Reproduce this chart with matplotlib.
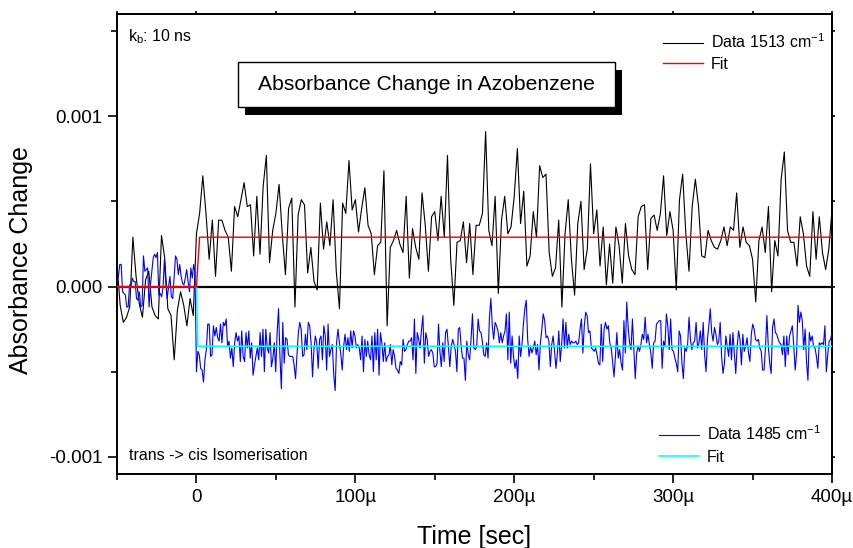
import numpy as np
import matplotlib
matplotlib.use("Agg")
import matplotlib.pyplot as plt
from matplotlib.patches import Rectangle
from matplotlib.ticker import MultipleLocator, FuncFormatter, FormatStrFormatter

plt.rcParams["font.family"] = ["Liberation Sans", "DejaVu Sans"]
plt.rcParams["mathtext.fontset"] = "custom"
plt.rcParams["mathtext.rm"] = "Liberation Sans"
plt.rcParams["mathtext.it"] = "Liberation Sans:italic"
plt.rcParams["mathtext.default"] = "regular"
plt.rcParams["axes.unicode_minus"] = False

# Absorbance values are stored in units of 1e-5
UNIT = 1e-5

# Time window of the measurement, microseconds
T_START_US = -50.0
T_END_US = 400.0
STEP_1513_US = 2.0

# Transient at 1513 cm-1 (2 us sampling from -50 us)
data_1513 = [
    13, -11, -21, -18, -12, 29, 6, -10, -18, 4, 9, -12, -17, -19, 30, 17, -13,
    -17, -43, -14, -3, -11, -23, -7, -17,
    31, 43, 65, 43, 16, 39, 6, 39, 39, 33, 29, 9, 47, 41, 51, 61, 47, 48, 18,
    53, 19, 59, 77, 14, 33, 43, 60, 31, 7, 46, 52,
    -12, 42, 51, 48, 8, 23, 3, -2, 49, 22, 38, 24, 51, 9, -13, 49, 43, 74, 45,
    51, 32, 46, 58, 36, 31, 7, 24, 26, 68, -23, 23, 27, 33, 25, 20, 53, 5, 34,
    23, 16, 55, 36, 9, 41, 44, 27, 53, 29, 77, 16, -11, 26, 27, 38, 14, 37, 7,
    36, 36, 43,
    91,
    33, 24, 53, -4, 39, 53, 31, 35, 53, 81, 37, 56, 12, 18, 44, 29, 71, 64, 66,
    20, 6, 11, 39, -12, 31, 51, 16, -5, 37, 50, 10, 22, 72, 31, 45, 12, 35, 1,
    25, 2, 35, 24, 2, 37, 18, 10, 7, 41, 47, 48, 10, 40, 42, 33, 43, 65, 30, 44,
    33, -2, 51, 66, 31, 9, 47, 63, 47, 18, 17, 33, 27, 23, 22, 27, 35, 24, 35,
    33, 55, 23, 35, 26, 24, 16, -9, 27, 35, 20, 47, -3, 27, 18, 63, 79, 33, 26,
    26, 12, 41, 31, 12, 6, 44, 16, 41, 20, 10, 22, 45,
]

# Transient at 1485 cm-1, before and after the pump pulse
data_1485_pre = [
    3, 6, 13, 13, -3, -4, -5, -12, -12, 1, 0, 5, 3, 3, -7, -8, -3, -12, -11,
    18, 9, 10, 11, -12, 1, 9, 17, 19, 17, 20, -5, -4, -6, -1, 16, 2, -7, 0, 6,
    -6, -7, 6, 18, 16, 7, 13, 6, 2, 1, 5, 10, 3, -3, 11, 5, 13, 8,
]
data_1485_post = [
    -50, -38, -40, -48, -49, -56, -43, -37, -22, -22, -41, -40, -23, -29, -24,
    -30, -32, -22, -33, -21, -23, -19, -35, -32, -42, -36, -47, -33, -27, -32,
    -29, -44, -26, -41, -44, -27, -36, -26, -42, -33, -52, -46, -41, -36, -43,
    -27, -41, -25, -50, -25, -36, -39, -27, -47, -42, -33, -50, -27, -13, -41,
    -60, -21, -45, -30, -31, -40, -41, -41, -41, -46, -54, -41, -27, -21, -25,
    -41, -40, -28, -37, -21, -23, -33, -53, -37, -29, -33, -48, -31, -29, -43,
    -23, -29, -49, -22, -41, -37, -34, -52, -61, -33, -25, -33, -40, -49, -35,
    -28, -37, -30, -38, -26, -36, -26, -29, -36, -34, -36, -43, -29, -50, -31,
    -41, -32, -40, -43, -29, -50, -27, -43, -25, -52, -27, -33, -44, -33, -44,
    -41, -40, -34, -46, -37, -41, -48,
    -49, -51, -44, -46, -31, -38, -37, -34, -32, -32, -30, -43, -19, -51, -27,
    -31, -36, -25, -17, -45, -27, -31, -41, -38, -37, -39, -47, -47, -45, -22,
    -38, -47, -33, -44, -27, -25, -35, -47, -35, -31, -34, -38, -50, -25, -24,
    -35, -42, -42, -55, -32, -40, -43, -31, -16, -36, -37, -35, -19, -26, -27,
    -32, -40, -41, -33, -42, -18, -7, -23, -31, -21, -23, -26, -33, -27, -33,
    -29, -26, -16, -43, -15, -45, -29, -41, -48, -43, -54, -29, -41, -34, -22,
    -13, -8, -31, -41, -35, -39, -36, -32, -40, -34, -49, -33, -25, -16, -20,
    -30, -29, -32, -47, -34, -29, -38, -48, -39, -26, -44, -34, -19, -36, -21,
    -36, -28, -34, -32, -33, -33, -32, -34, -33, -25, -19, -39, -23, -15, -17,
    -27, -26, -36, -37, -38, -36, -40, -45, -46, -22, -44, -25, -21, -25, -23,
    -33, -36, -44, -53,
    -41, -27, -42, -37, -45, -49, -20, -39, -9, -24, -33, -37, -19, -37, -54,
    -39, -35, -38, -34, -28, -31, -18, -33, -28, -34, -39, -48, -33, -32, -22,
    -21, -20, -20, -48, -32, -35, -16, -23, -37, -19, -37, -38, -42, -45, -50,
    -26, -29, -45, -54, -36, -38, -34, -18, -31, -37, -33, -32, -21, -36, -33,
    -26, -37, -21, -40, -50, -31, -23, -13, -27, -32, -24, -28, -34, -32, -21,
    -41, -51, -45, -29, -35, -41, -28, -43, -27, -39, -51, -35, -26, -31, -46,
    -28, -38, -35, -30, -39, -44, -28, -22, -25, -31, -32, -31, -36, -38, -49,
    -49, -36, -17, -35, -45, -51, -24, -19, -27, -28, -31, -33, -34, -40, -29,
    -47, -29, -40, -29, -26, -23, -35, -49, -39, -11, -21, -15, -20, -37, -25,
    -44, -55, -27, -32, -29, -35, -36, -41, -48, -33, -34, -33, -34, -23, -50,
    -40, -32, -31, -27,
]

# Single-exponential step fits
fit_1513_amp = 29
fit_1485_amp = -35
fit_tau_s = 10e-9

legend_top = ["Data 1513 cm$^{-1}$", "Fit"]
legend_bottom = ["Data 1485 cm$^{-1}$", "Fit"]
title_text = "Absorbance Change in Azobenzene"
rate_text = "k$_{b}$: 10 ns"
process_text = "trans -> cis Isomerisation"

# Time axes in seconds
t_1513 = (T_START_US + STEP_1513_US * np.arange(len(data_1513))) * 1e-6
t_1485 = np.concatenate([
    np.linspace(T_START_US, 0.0, len(data_1485_pre), endpoint=False),
    np.linspace(0.0, T_END_US, len(data_1485_post)),
]) * 1e-6
y_1513 = np.array(data_1513) * UNIT
y_1485 = np.array(data_1485_pre + data_1485_post) * UNIT


def step_fit(t, amp):
    rise = 1.0 - np.exp(-np.clip(t, 0, None) / fit_tau_s)
    return np.where(t > 0, amp * UNIT * rise, 0.0)


fig = plt.figure(figsize=(8.54, 5.48), dpi=100)
ax = fig.add_axes([117 / 854, 74 / 548, 715 / 854, 460 / 548])

ax.axhline(0, color="black", lw=1.6, zorder=1)
l_data1, = ax.plot(t_1513, y_1513, color="black", lw=0.8, zorder=2)
l_data2, = ax.plot(t_1485, y_1485, color="#0000ff", lw=0.8, zorder=3)
l_fit2, = ax.plot(t_1485, step_fit(t_1485, fit_1485_amp), color="#00ffff", lw=1.1, zorder=4)
l_fit1, = ax.plot(t_1513, step_fit(t_1513, fit_1513_amp), color="#ee0000", lw=1.0, zorder=5)

ax.set_xlim(T_START_US * 1e-6, T_END_US * 1e-6)
ax.set_ylim(-0.0011, 0.0016)

ax.xaxis.set_major_locator(MultipleLocator(100e-6))
ax.xaxis.set_minor_locator(MultipleLocator(50e-6))
ax.xaxis.set_major_formatter(
    FuncFormatter(lambda v, p: "0" if abs(v) < 1e-12 else f"{v * 1e6:.0f}\u00b5"))
ax.yaxis.set_major_locator(MultipleLocator(0.001))
ax.yaxis.set_minor_locator(MultipleLocator(0.0005))
ax.yaxis.set_major_formatter(FormatStrFormatter("%.3f"))

ax.tick_params(which="major", direction="out", length=6.5, width=1.2,
               labelsize=13.5, pad=4)
ax.tick_params(which="minor", direction="out", length=4, width=1.2)
for s in ax.spines.values():
    s.set_linewidth(1.4)

# Short outward ticks on the top and right frame
secx = ax.secondary_xaxis("top")
secx.xaxis.set_major_locator(MultipleLocator(100e-6))
secx.xaxis.set_minor_locator(MultipleLocator(50e-6))
secx.tick_params(which="both", direction="out", length=2.5, width=1.2, labeltop=False)
secx.spines["top"].set_linewidth(1.4)
secy = ax.secondary_yaxis("right")
secy.yaxis.set_major_locator(MultipleLocator(0.001))
secy.yaxis.set_minor_locator(MultipleLocator(0.0005))
secy.tick_params(which="both", direction="out", length=2.5, width=1.2, labelright=False)
secy.spines["right"].set_linewidth(1.4)

fig.text(21 / 854, (548 - 260) / 548, "Absorbance Change", rotation=90,
         ha="center", va="center", fontsize=18)
fig.text(474.5 / 854, 4 / 548, "Time [sec]", ha="center", va="baseline", fontsize=18)

# Title box with drop shadow
box_x, box_y, box_w, box_h = 0.1692, 0.7978, 0.5273, 0.0978
ax.add_patch(Rectangle((box_x + 0.0098, box_y - 0.0174), box_w, box_h,
                       transform=ax.transAxes, facecolor="black",
                       edgecolor="black", lw=0, zorder=6))
ax.add_patch(Rectangle((box_x, box_y), box_w, box_h, transform=ax.transAxes,
                       facecolor="white", edgecolor="black", lw=1.0, zorder=7))
ax.text(box_x + box_w / 2, box_y + box_h / 2, title_text, transform=ax.transAxes,
        ha="center", va="center", fontsize=15.2, zorder=8)

ax.text(0.0154, 0.95, rate_text, transform=ax.transAxes, ha="left",
        va="center", fontsize=11.5)
ax.text(0.0168, 0.041, process_text, transform=ax.transAxes, ha="left",
        va="center", fontsize=11.5)

leg1 = ax.legend([l_data1, l_fit1], legend_top, loc="upper right",
                 bbox_to_anchor=(0.99, 0.96), frameon=False, fontsize=11.5,
                 handlelength=2.5, handletextpad=0.5, labelspacing=0.35,
                 borderpad=0, borderaxespad=0)
ax.add_artist(leg1)
ax.legend([l_data2, l_fit2], legend_bottom, loc="lower right",
          bbox_to_anchor=(0.985, 0.02), frameon=False, fontsize=11.5,
          handlelength=2.5, handletextpad=0.5, labelspacing=0.4,
          borderpad=0, borderaxespad=0)

fig.savefig("out.png", dpi=100)
